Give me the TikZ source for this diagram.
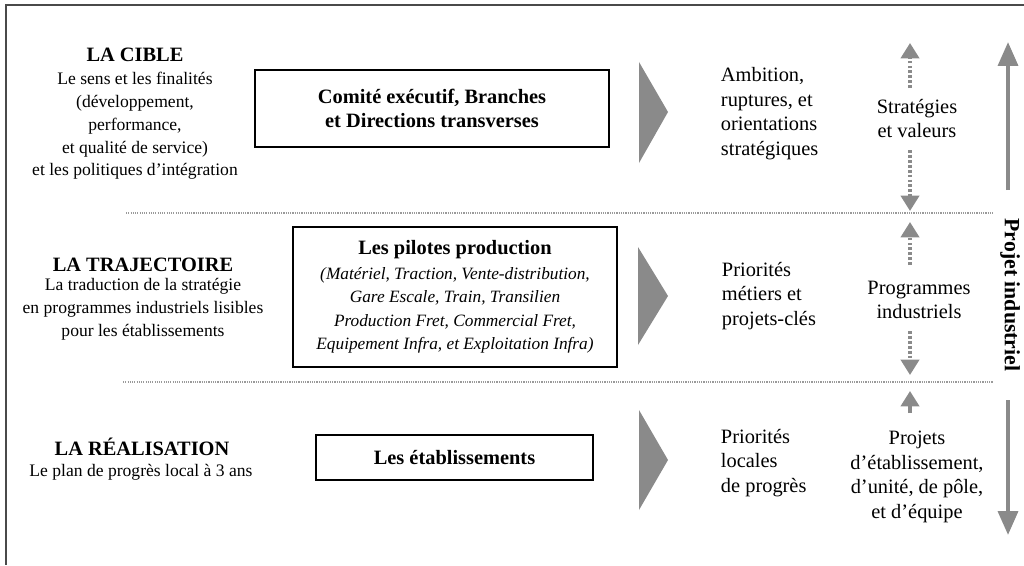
\documentclass[tikz,border=0pt]{standalone}
\usepackage{fontspec}
\setmainfont{Liberation Serif}
\usepackage{tikz}
\usetikzlibrary{calc,arrows.meta}
\definecolor{gris_fleche}{HTML}{8A8A8A}
\definecolor{gris_cadre}{HTML}{4A4A4A}
\definecolor{gris_trait}{HTML}{9A9A9A}
\newcommand{\policetitre}{\fontsize{14.5}{17}\selectfont\bfseries}

\begin{document}
\begin{tikzpicture}[x=0.025cm,y=-0.025cm,>={Triangle[width=13pt,length=11pt]},
    titre/.style={font=\policetitre},
    texte/.style={font=\fontsize{12.5}{16.2}\selectfont,align=center},
    grand/.style={font=\fontsize{14.5}{17.4}\selectfont},
    boite/.style={draw=black,line width=1.1pt,align=center,inner sep=0pt},
    pointille/.style={gris_fleche,line width=2.5pt,dash pattern=on 2pt off 1.5pt},
    separation/.style={gris_trait,line width=0.8pt,dash pattern=on 0.8pt off 0.8pt}]

        % Cadre de la page
        \useasboundingbox (0,0) rectangle (1024,565);
        \draw[gris_cadre,line width=1.8pt] (1024,5) -- (6,5) -- (6,565);

        % Lignes de séparation entre les trois niveaux
        \draw[separation] (126,213) -- (993,213);
        \draw[separation] (123,382) -- (993,382);

        % Colonne de gauche : les trois niveaux
        \node[titre] (cible) at (135,55) {LA CIBLE};
        \node[texte] (cible_txt) at (135,126) {Le sens et les finalités\\(développement,\\performance,\\et qualité de service)\\et les politiques d’intégration};
        \node[titre] (trajectoire) at (143,265) {LA TRAJECTOIRE};
        \node[texte] (trajectoire_txt) at (143,309) {La traduction de la stratégie\\en programmes industriels lisibles\\pour les établissements};
        \node[titre] (realisation) at (142,447) {LA RÉALISATION};
        \node[texte] (realisation_txt) at (141,472) {Le plan de progrès local à 3 ans};

        % Les boîtes des acteurs
        \node[boite,minimum width=8.85cm,minimum height=1.925cm,titre] (comite) at (432,108.5) {Comité exécutif, Branches\\et Directions transverses};
        \node[boite,minimum width=8.1cm,minimum height=3.5cm,font=\fontsize{12.3}{16.7}\selectfont\itshape] (pilotes) at (455,297) {{\policetitre\upshape Les pilotes production}\\[1pt](Matériel, Traction, Vente-distribution,\\Gare Escale, Train, Transilien\\Production Fret, Commercial Fret,\\Equipement Infra, et Exploitation Infra)};
        \node[boite,minimum width=6.925cm,minimum height=1.125cm,titre] (etablissements) at (454.5,457.5) {Les établissements};

        % Les triangles gris
        \fill[gris_fleche] (639,62) -- (668,112) -- (639,163) -- cycle;
        \fill[gris_fleche] (638,247) -- (668,296) -- (638,345) -- cycle;
        \fill[gris_fleche] (639,410) -- (668,460) -- (639,510) -- cycle;

        % Les priorités
        \node[grand,align=left,anchor=west] (ambition) at (716,113.5) {Ambition,\\ruptures, et\\orientations\\stratégiques};
        \node[grand,align=left,anchor=west] (metiers) at (717,296) {Priorités\\métiers et\\projets-clés};
        \node[grand,align=left,anchor=west] (locales) at (716,463) {Priorités\\locales\\de progrès};

        % Les démarches
        \node[grand,align=center] (strategies) at (917,118.5) {Stratégies\\et valeurs};
        \node[grand,align=center] (programmes) at (919,300) {Programmes\\industriels};
        \node[grand,align=center] (projets) at (917,477) {Projets\\d’établissement,\\d’unité, de pôle,\\et d’équipe};

        % Flèches pointillées de la colonne des démarches
        \coordinate (S1) at (910,88);  \coordinate (S2) at (910,43);
        \coordinate (S3) at (910,150); \coordinate (S4) at (910,211);
        \coordinate (P1) at (910,265); \coordinate (P2) at (910,222);
        \coordinate (P3) at (910,331); \coordinate (P4) at (910,375);
        \coordinate (R1) at (910,413); \coordinate (R2) at (910,391);
        \draw[->,pointille] (S1) -- (S2);
        \draw[->,pointille] (S3) -- (S4);
        \draw[->,pointille] (P1) -- (P2);
        \draw[->,pointille] (P3) -- (P4);
        \draw[->,gris_fleche,line width=2.5pt] (R1) -- (R2);

        % Flèches du projet industriel
        \coordinate (H1) at (1008,190); \coordinate (H2) at (1008,42);
        \coordinate (B1) at (1008,400); \coordinate (B2) at (1008,535);
        \draw[-{Triangle[width=14pt,length=17pt]},gris_fleche,line width=3pt] (H1) -- (H2);
        \draw[-{Triangle[width=14pt,length=17pt]},gris_fleche,line width=3pt] (B1) -- (B2);
        \node[font=\fontsize{15.5}{18}\selectfont\bfseries,rotate=-90] (projet) at (1010,295) {Projet industriel};
    \end{tikzpicture}
\end{document}
